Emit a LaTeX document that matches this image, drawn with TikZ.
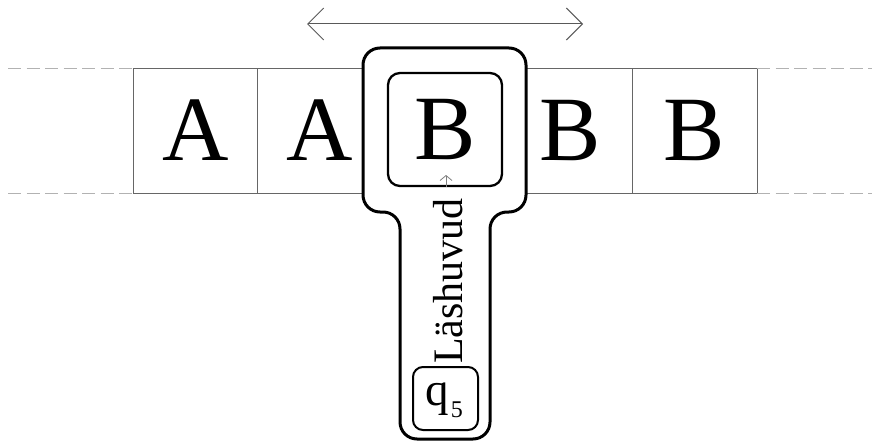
\documentclass[tikz,border=0pt]{standalone}
\usepackage{fontspec}
\setmainfont{Liberation Serif}
\usetikzlibrary{arrows.meta}
\begin{document}
\begin{tikzpicture}[x=1pt,y=-1pt,
  cell/.style={draw=black!60, line width=1pt, minimum width=124.8pt, minimum height=125pt,
    inner sep=0pt, outer sep=0pt, font=\fontsize{92}{92}\selectfont},
  tape/.style={draw=black!30, dash pattern=on 13pt off 5.5pt, line width=1pt},
  headline/.style={draw=black, line width=3pt, rounded corners=17pt, fill=white},
  window/.style={draw=black, line width=2.3pt, rounded corners=12pt, minimum width=114pt,
    minimum height=113pt, inner sep=0pt, font=\fontsize{92}{92}\selectfont},
  statebox/.style={draw=black, line width=2pt, rounded corners=10pt, minimum width=65pt,
    minimum height=63pt, inner sep=0pt},
  move/.style={draw=black!65, line width=1pt,
    {Straight Barb[length=16pt,width=32pt]}-{Straight Barb[length=16pt,width=32pt]}},
  pointer/.style={draw=black!50, line width=0.8pt, -{Straight Barb[length=5pt,width=12pt]}}
]
\useasboundingbox (0,0) rectangle (872,444);
% tape cells
\node[cell] (c1) at (195.4,130.5) {A};
\node[cell] (c2) at (320.2,130.5) {A};
\node[cell] (c3) at (445.0,130.5) {};
\node[cell] (c4) at (569.8,130.5) {B};
\node[cell] (c5) at (694.6,130.5) {B};
% dashed tape continuation
\coordinate (tl) at (8,68);
\coordinate (bl) at (8,193);
\coordinate (tr) at (872,68);
\coordinate (br) at (872,193);
\draw[tape] (tl) -- (c1.north west);
\draw[tape] (bl) -- (c1.south west);
\draw[tape] (c5.north east) -- (tr);
\draw[tape] (c5.south east) -- (br);
% movement arrow
\coordinate (al) at (307,24);
\coordinate (ar) at (583,24);
\draw[move] (al) -- (ar);
% read head
\draw[headline] (363,48) -- (526,48) -- (526,212) -- (490,212) -- (490,439)
  -- (400,439) -- (400,212) -- (363,212) -- cycle;
\node[window] (hb) at (445,129.5) {B};
\coordinate (ptip) at (446,175);
\draw[pointer] (hb.south -| ptip) -- (ptip);
\node[rotate=90, anchor=base, inner sep=0pt, font=\fontsize{42}{42}\selectfont]
  (lbl) at (462,281) {Läshuvud};
\node[statebox] (q) at (445.5,398.5) {};
\node[anchor=base, inner sep=0pt, font=\fontsize{47}{47}\selectfont]
  (qt) at (444,405) {q\kern2pt\raisebox{-12pt}{\fontsize{24}{24}\selectfont 5}};
\end{tikzpicture}
\end{document}
